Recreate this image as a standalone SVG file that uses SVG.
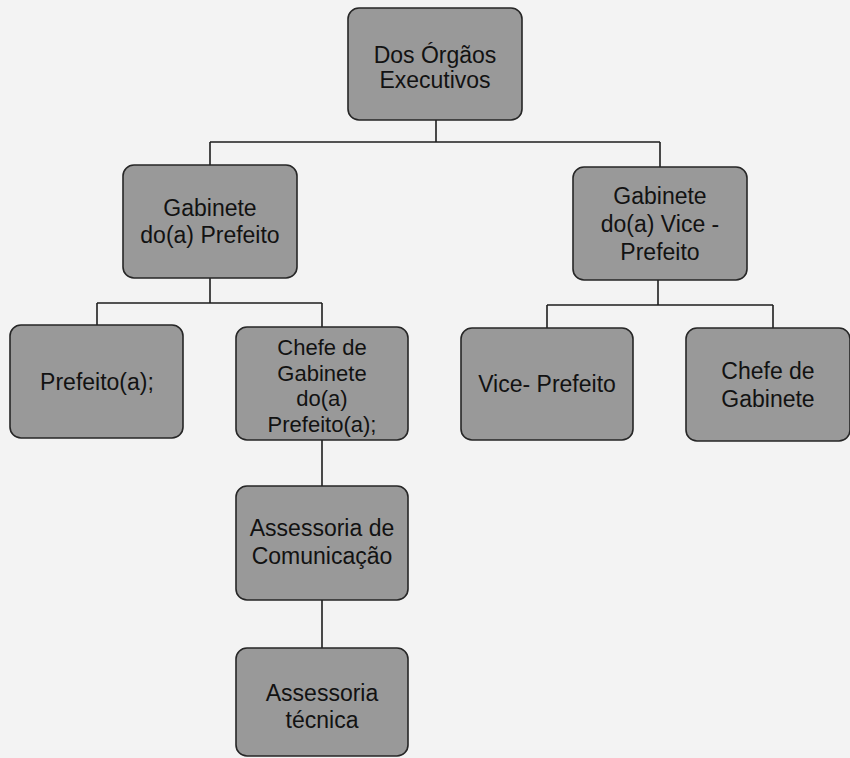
<svg xmlns="http://www.w3.org/2000/svg" width="850" height="758" viewBox="0 0 850 758">
<style>
.box{fill:#999999;stroke:#262626;stroke-width:1.6}
.t{font-family:"Liberation Sans",Arial,sans-serif;font-size:23px;fill:#121212;text-anchor:middle}
.s{font-size:22px}
.c{fill:none;stroke:#1e1e1e;stroke-width:1.6}
</style>
<rect width="850" height="758" fill="#f3f3f3"/>
<g id="connectors">
<path class="c" d="M436 120 V142 M210 142 H660 M210 142 V165 M660 142 V167"/>
<path class="c" d="M210 278 V303 M97 303 H322 M97 303 V325 M322 303 V327"/>
<path class="c" d="M658 280 V305 M547 305 H773 M547 305 V328 M773 305 V328"/>
<path class="c" d="M322 440 V486 M322 600 V648"/>
</g>
<g id="n-orgaos"><rect class="box" x="348" y="8" width="174" height="112" rx="11"/><text class="t" x="435" y="63">Dos Órgãos</text><text class="t" x="435" y="88">Executivos</text></g>
<g id="n-gab-prefeito"><rect class="box" x="123" y="165" width="174" height="113" rx="11"/><text class="t" x="210" y="216">Gabinete</text><text class="t" x="210" y="243">do(a) Prefeito</text></g>
<g id="n-gab-vice"><rect class="box" x="573" y="167" width="174" height="113" rx="11"/><text class="t" x="660" y="204">Gabinete</text><text class="t" x="660" y="232">do(a) Vice -</text><text class="t" x="660" y="260">Prefeito</text></g>
<g id="n-prefeito"><rect class="box" x="10" y="325" width="173" height="113" rx="11"/><text class="t" x="97" y="390">Prefeito(a);</text></g>
<g id="n-chefe-gab-prefeito"><rect class="box" x="236" y="327" width="172" height="113" rx="11"/><text class="t s" x="322" y="355">Chefe de</text><text class="t s" x="322" y="380.5">Gabinete</text><text class="t s" x="322" y="406">do(a)</text><text class="t s" x="322" y="431.5">Prefeito(a);</text></g>
<g id="n-vice-prefeito"><rect class="box" x="461" y="328" width="172" height="112" rx="11"/><text class="t" x="547" y="392">Vice- Prefeito</text></g>
<g id="n-chefe-gab"><rect class="box" x="686" y="328" width="164" height="113" rx="11"/><text class="t" x="768" y="379">Chefe de</text><text class="t" x="768" y="407">Gabinete</text></g>
<g id="n-assessoria-com"><rect class="box" x="236" y="486" width="172" height="114" rx="11"/><text class="t" x="322" y="536">Assessoria de</text><text class="t" x="322" y="564">Comunicação</text></g>
<g id="n-assessoria-tec"><rect class="box" x="236" y="648" width="172" height="108" rx="11"/><text class="t" x="322" y="701">Assessoria</text><text class="t" x="322" y="728">técnica</text></g>
</svg>
